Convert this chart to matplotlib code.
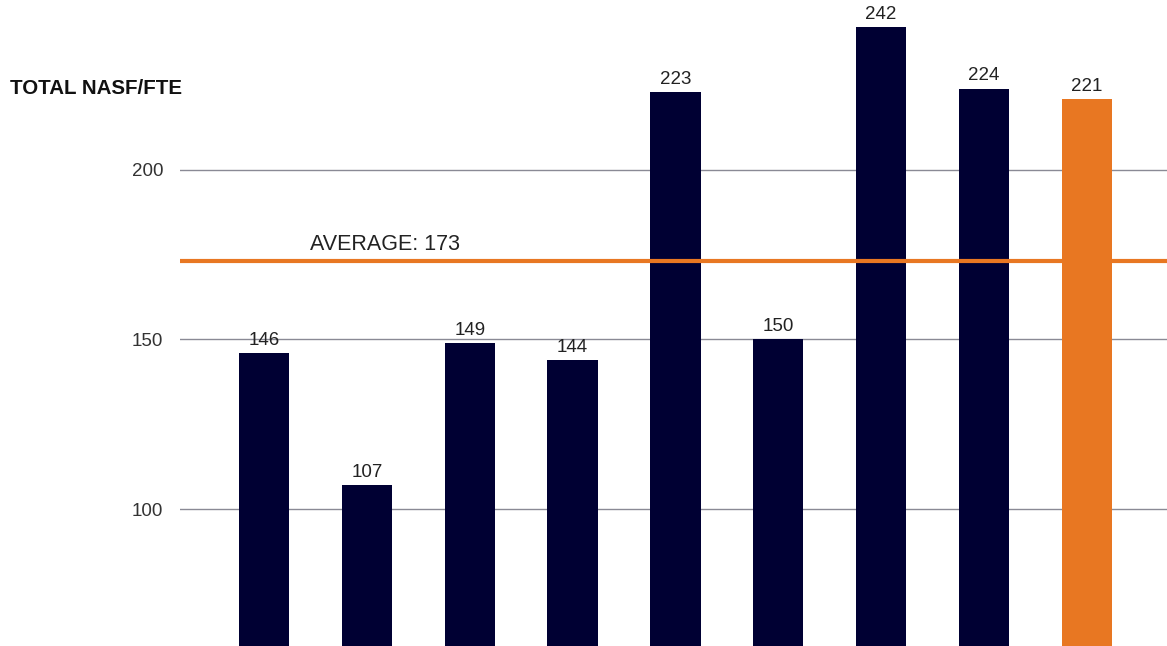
import matplotlib.pyplot as plt

# NASF per FTE for each institution, last one is the highlighted campus
values = [146, 107, 149, 144, 223, 150, 242, 224, 221]
bar_colors = ['#000033'] * 8 + ['#E87722']
average = 173
yticks = [100, 150, 200]

plt.rcParams['font.family'] = ['Liberation Sans', 'DejaVu Sans']

fig = plt.figure(figsize=(11.67, 6.46), dpi=100)
ax = fig.add_axes([180 / 1167, 0, 987 / 1167, 1])

x = range(len(values))
ax.bar(x, values, width=0.49, color=bar_colors, zorder=3)
for i, v in enumerate(values):
    ax.text(i, v + 1.2, str(v), ha='center', va='bottom', fontsize=13.5, color='#222222', zorder=4)

ax.axhline(average, color='#E87722', linewidth=3, zorder=4)
ax.text(0.45, average + 3.3, f'AVERAGE: {average}', fontsize=15.5, color='#222222',
        va='baseline', ha='left')

ax.set_xlim(-0.817, 8.78)
ax.set_ylim(59.6, 250.1)
ax.set_yticks(yticks)
ax.set_yticklabels([str(t) for t in yticks], fontsize=13.5, color='#333333')
ax.tick_params(axis='y', length=0, pad=12)
ax.set_xticks([])
ax.grid(axis='y', color='#8a8a95', linewidth=1, zorder=0)
for s in ax.spines.values():
    s.set_visible(False)

fig.text(10 / 1167, 1 - 88 / 646, 'TOTAL NASF/FTE', fontsize=14.8, fontweight='bold',
         color='#111111', va='center', ha='left')

plt.savefig('out.png', dpi=100)
